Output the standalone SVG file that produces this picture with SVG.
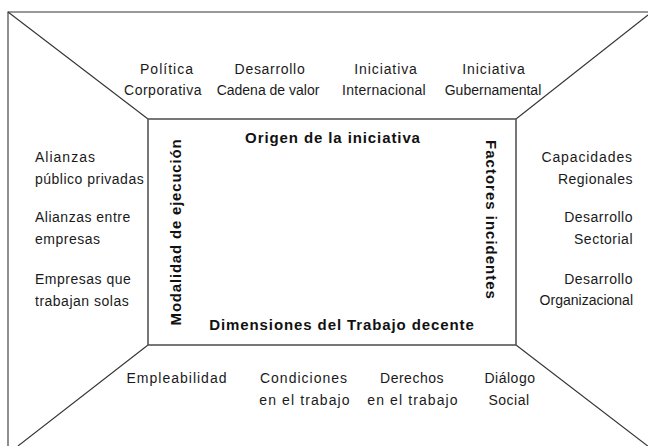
<svg xmlns="http://www.w3.org/2000/svg" width="648" height="446" viewBox="0 0 648 446">
<style>
.ln{stroke:#333;stroke-width:1.1;fill:none}
.box{stroke:#555;stroke-width:1.6;fill:#fff}
.t{font-family:"Liberation Sans",Arial,sans-serif;font-size:14px;fill:#1a1a1a;letter-spacing:0.5px}
.m{text-anchor:middle}
.e{text-anchor:end}
.b{font-family:"Liberation Sans",Arial,sans-serif;font-size:15px;font-weight:bold;fill:#111;letter-spacing:0.9px;text-anchor:middle}
</style>
<rect width="648" height="446" fill="#fff"/>
<g id="connectors">
<polyline class="ln" points="8,446 8,12 648,12"/>
<line class="ln" x1="8" y1="12" x2="148" y2="119"/>
<line class="ln" x1="648" y1="15" x2="516" y2="119"/>
<line class="ln" x1="148" y1="345" x2="18" y2="446"/>
<line class="ln" x1="516" y1="345" x2="649" y2="447"/>
</g>
<g id="center">
<rect class="box" x="148" y="119" width="368" height="226"/>
<text class="b" x="333" y="143">Origen de la iniciativa</text>
<text class="b" x="342" y="330">Dimensiones del Trabajo decente</text>
<text class="b" transform="translate(181,232) rotate(-90)" style="letter-spacing:0.8px">Modalidad de ejecución</text>
<text class="b" transform="translate(486,220) rotate(90)" style="letter-spacing:1px">Factores incidentes</text>
</g>
<g id="top">
<text class="t m" x="167" y="74" style="letter-spacing:1px">Política</text>
<text class="t m" x="163" y="95">Corporativa</text>
<text class="t m" x="270" y="74" style="letter-spacing:0.7px">Desarrollo</text>
<text class="t m" x="268" y="95" style="letter-spacing:0">Cadena de valor</text>
<text class="t m" x="386" y="74" style="letter-spacing:0.9px">Iniciativa</text>
<text class="t m" x="384" y="95" style="letter-spacing:0.3px">Internacional</text>
<text class="t m" x="494" y="74" style="letter-spacing:0.9px">Iniciativa</text>
<text class="t m" x="493" y="95" style="letter-spacing:0">Gubernamental</text>
</g>
<g id="left">
<text class="t" x="35" y="162" style="letter-spacing:1px">Alianzas</text>
<text class="t" x="35" y="184">público privadas</text>
<text class="t" x="35" y="222">Alianzas entre</text>
<text class="t" x="35" y="244">empresas</text>
<text class="t" x="35" y="284">Empresas que</text>
<text class="t" x="35" y="306">trabajan solas</text>
</g>
<g id="right">
<text class="t e" x="633" y="162" style="letter-spacing:0.9px">Capacidades</text>
<text class="t e" x="633" y="184">Regionales</text>
<text class="t e" x="633" y="222">Desarrollo</text>
<text class="t e" x="633" y="244">Sectorial</text>
<text class="t e" x="633" y="284">Desarrollo</text>
<text class="t e" x="633" y="305" style="letter-spacing:0">Organizacional</text>
</g>
<g id="bottom">
<text class="t m" x="177" y="383" style="letter-spacing:1px">Empleabilidad</text>
<text class="t m" x="304" y="383" style="letter-spacing:1px">Condiciones</text>
<text class="t m" x="305" y="405" style="letter-spacing:1.1px">en el trabajo</text>
<text class="t m" x="412" y="383">Derechos</text>
<text class="t m" x="413" y="405" style="letter-spacing:1.1px">en el trabajo</text>
<text class="t m" x="510" y="383">Diálogo</text>
<text class="t m" x="509" y="405">Social</text>
</g>
</svg>
